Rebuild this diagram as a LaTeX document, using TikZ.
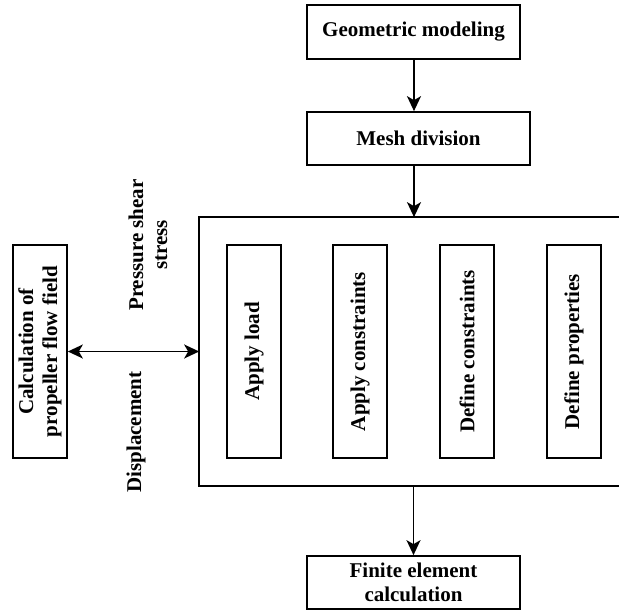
\documentclass[tikz,border=0pt]{standalone}
\usepackage{fontspec}
\setmainfont{Liberation Serif}
\usetikzlibrary{arrows.meta}
\begin{document}
\begin{tikzpicture}[x=1pt,y=-1pt,
  line width=1.7pt,
  box/.style={draw, line width=1.7pt, inner sep=0pt, align=center,
    font=\fontsize{21}{24}\selectfont\bfseries},
  vbox/.style={box, minimum width=54pt, minimum height=213pt},
  lbl/.style={inner sep=0pt, align=center, rotate=90,
    font=\fontsize{21}{24}\selectfont\bfseries},
  arr/.style={-{Stealth[length=15pt,width=14pt,inset=4pt]}},
  darr/.style={{Stealth[length=15pt,width=14pt,inset=4pt]}-{Stealth[length=15pt,width=14pt,inset=4pt]}}]
\useasboundingbox (0,0) rectangle (619,611);

\node[box, minimum width=213pt, minimum height=54pt] (geo) at (413.5,32) {Geometric modeling};
\node[box, minimum width=223pt, minimum height=53pt] (mesh) at (418.5,138.5) {Mesh division};
\node[inner sep=0pt, minimum width=419pt, minimum height=267pt] (big) at (409.5,351.5) {};
\node[box, minimum width=213pt, minimum height=53pt] (fin) at (413.5,582.5) {Finite element\\calculation};

\node[vbox] (b1) at (254,351.5) {};
\node[lbl] (t1) at (b1.center) {Apply load};
\node[vbox] (b2) at (360,351.5) {};
\node[lbl] (t2) at (b2.center) {Apply constraints};
\node[vbox] (b3) at (467,351.5) {};
\node[lbl] (t3) at (b3.center) {Define constraints};
\node[vbox] (b4) at (574,351.5) {};
\node[lbl] (t4) at (b4.center) {Define properties};

\node[vbox] (left) at (40,351.5) {};
\node[lbl] (tl) at (left.center) {Calculation of\\propeller flow field};

\node[lbl] (pss) at (148,245) {Pressure shear\\stress};
\node[lbl] (disp) at (136,432) {Displacement};

\draw (big.north east) -- (big.north west) -- (big.south west) -- (big.south east);

\draw[arr] (geo.south -| 414,0) -- (mesh.north -| 414,0);
\draw[arr] (mesh.south -| 414,0) -- (big.north -| 414,0);
\draw[arr] (big.south -| fin) -- (fin.north);
\draw[darr] (left.east) -- (big.west);
\end{tikzpicture}
\end{document}
